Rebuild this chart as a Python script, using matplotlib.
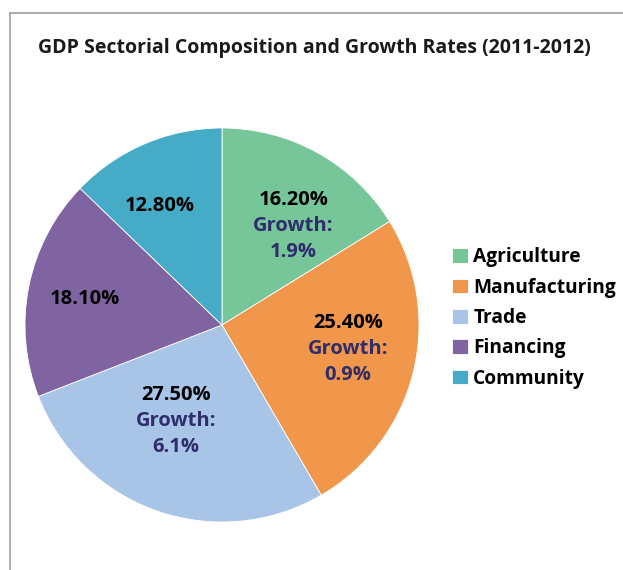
import numpy as np
import matplotlib
matplotlib.use("Agg")
import matplotlib.pyplot as plt
from matplotlib.lines import Line2D

plt.rcParams['font.family'] = ['Open Sans', 'DejaVu Sans']

# data
sectors = ['Agriculture', 'Manufacturing', 'Trade', 'Financing', 'Community']
shares = [16.2, 25.4, 27.5, 18.1, 12.8]
growth = ['1.9%', '0.9%', '6.1%', None, None]

colors = ['#77C69A', '#F0974B', '#A8C4E6', '#8064A2', '#46ABC6']
label_r = [0.63, 0.65, 0.53, 0.71, 0.69]   # label distance from centre (pie radius = 1)
label_dang = [-6, 4, -7, 0, 4]              # small angle nudges, degrees

W, H = 623, 570
fig = plt.figure(figsize=(W / 100, H / 100), dpi=100)

# grey frame of the original chart box
fig.add_artist(Line2D([10 / W, 10 / W], [0, 1 - 13 / H], color='#A6A6A6', lw=1.3))
fig.add_artist(Line2D([10 / W, 1], [1 - 13 / H, 1 - 13 / H], color='#A6A6A6', lw=1.3))

cx, cy, R = 222, 325, 197
ax = fig.add_axes([(cx - R) / W, (H - cy - R) / H, 2 * R / W, 2 * R / H])
wedges, _ = ax.pie(shares, colors=colors, startangle=90, counterclock=False,
                   wedgeprops=dict(linewidth=0.6, edgecolor='white'))
ax.set_xlim(-1, 1)
ax.set_ylim(-1, 1)
ax.set_aspect('equal')

fs = 14.5
for i, w in enumerate(wedges):
    ang = np.deg2rad((w.theta1 + w.theta2) / 2 + label_dang[i])
    x, y = label_r[i] * np.cos(ang), label_r[i] * np.sin(ang) - 0.01
    if growth[i] is None:
        ax.text(x, y, f'{shares[i]:.2f}%', ha='center', va='center',
                fontsize=fs, fontweight='bold', color='black')
    else:
        ax.text(x, y + 0.132, f'{shares[i]:.2f}%', ha='center', va='center',
                fontsize=fs, fontweight='bold', color='black')
        ax.text(x, y, 'Growth:', ha='center', va='center',
                fontsize=fs, fontweight='bold', color='#2F2D6B')
        ax.text(x, y - 0.132, growth[i], ha='center', va='center',
                fontsize=fs, fontweight='bold', color='#2F2D6B')

fig.text(314 / W, 1 - 48 / H, 'GDP Sectorial Composition and Growth Rates (2011-2012)',
         ha='center', va='center', fontsize=14, fontweight='bold', color='#1A1A1A')

leg = fig.legend(wedges, sectors, loc='upper left', bbox_to_anchor=(435 / W, 1 - 230 / H),
                 frameon=False, handlelength=0.8, handleheight=0.8, handletextpad=0.3,
                 labelspacing=0.54, prop=dict(size=13.8, weight='bold'))

fig.savefig('out.png', dpi=100)
